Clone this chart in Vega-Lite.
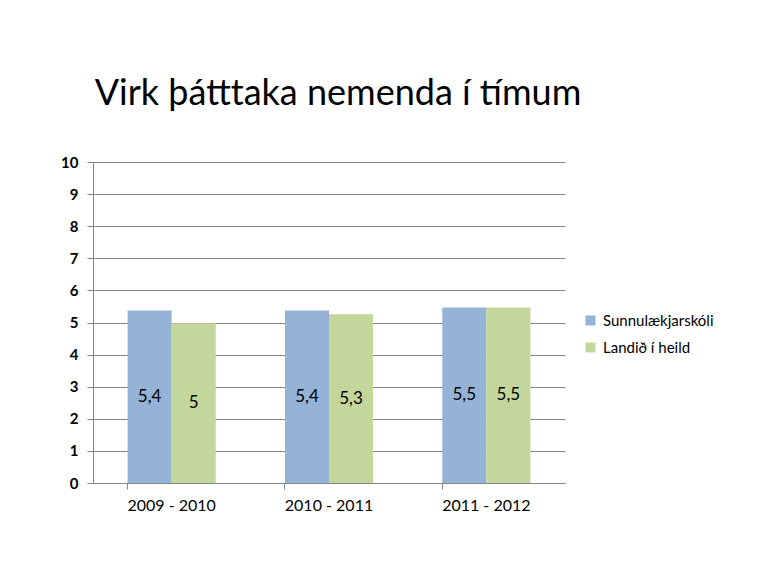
{
  "$schema": "https://vega.github.io/schema/vega-lite/v6.json",
  "autosize": "none",
  "width": 472,
  "height": 321,
  "padding": {"left": 93, "top": 162, "right": 206, "bottom": 98},
  "background": "white",
  "config": {
    "locale": {"number": {"decimal": ",", "thousands": ".", "grouping": [3], "currency": ["", " kr."]}},
    "view": {"stroke": null},
    "font": "Lato",
    "axisY": {
      "values": [0,1,2,3,4,5,6,7,8,9,10], "format": "d", "labelOverlap": false,
      "labelFontSize": 15, "labelColor": "#000000", "labelFont": "Lato", "labelFontWeight": "bold",
      "domainColor": "#868686", "tickColor": "#868686", "tickSize": 6, "labelPadding": 9,
      "gridColor": "#868686", "gridOpacity": 1
    }
  },
  "title": {
    "text": "Virk þátttaka nemenda í tímum",
    "fontSize": 36,
    "font": "Lato",
    "fontWeight": "normal",
    "color": "#000000",
    "anchor": "middle",
    "baseline": "alphabetic",
    "offset": 14,
    "dx": 9
  },
  "data": {
    "values": [
      {"ar": "2009 - 2010", "hopur": "Sunnulækjarskóli", "gildi": 5.37},
      {"ar": "2009 - 2010", "hopur": "Landið í heild", "gildi": 4.98},
      {"ar": "2010 - 2011", "hopur": "Sunnulækjarskóli", "gildi": 5.37},
      {"ar": "2010 - 2011", "hopur": "Landið í heild", "gildi": 5.26},
      {"ar": "2011 - 2012", "hopur": "Sunnulækjarskóli", "gildi": 5.47},
      {"ar": "2011 - 2012", "hopur": "Landið í heild", "gildi": 5.47}
    ]
  },
  "encoding": {
    "x": {
      "field": "ar", "type": "nominal", "title": null,
      "scale": {"paddingInner": 0.44, "paddingOuter": 0.22},
      "axis": {
        "labelAngle": 0, "labelFontSize": 16, "labelColor": "#000000", "labelFont": "Lato",
        "domainColor": "#868686", "tickColor": "#868686", "tickSize": 6,
        "bandPosition": 0, "labelPadding": 8, "grid": false
      }
    },
    "xOffset": {"field": "hopur", "type": "nominal", "sort": ["Sunnulækjarskóli", "Landið í heild"]}
  },
  "layer": [
    {
      "mark": {"type": "bar"},
      "encoding": {
        "y": {
          "field": "gildi", "type": "quantitative", "title": null,
          "scale": {"domain": [0, 10], "nice": false}
        },
        "color": {
          "field": "hopur", "type": "nominal", "title": null,
          "sort": ["Sunnulækjarskóli", "Landið í heild"],
          "scale": {"domain": ["Sunnulækjarskóli", "Landið í heild"], "range": ["#95B3D7", "#C3D69B"]},
          "legend": {
            "orient": "none", "legendX": 490, "legendY": 151,
            "symbolType": "square", "symbolSize": 100, "symbolStrokeWidth": 0,
            "labelFontSize": 15, "labelFont": "Lato", "labelColor": "#000000", "rowPadding": 11, "labelOffset": 5
          }
        }
      }
    },
    {
      "transform": [{"calculate": "datum.gildi / 2", "as": "midja"}],
      "mark": {"type": "text", "fontSize": 17, "font": "Lato", "color": "#000000"},
      "encoding": {
        "y": {"field": "midja", "type": "quantitative", "title": null},
        "text": {"field": "gildi", "type": "quantitative", "format": ".1~f"}
      }
    }
  ]
}
